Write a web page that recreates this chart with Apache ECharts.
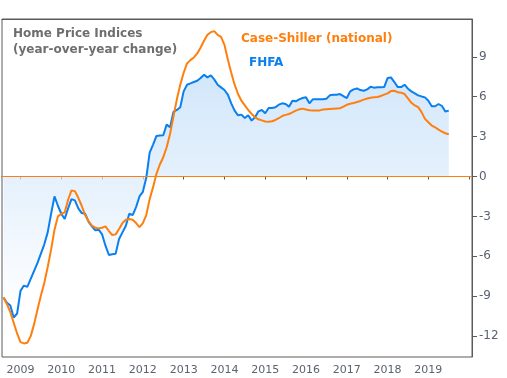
<!DOCTYPE html>
<html>
<head>
<meta charset="utf-8">
<script src="https://cdn.jsdelivr.net/npm/echarts@6/dist/echarts.min.js"></script>
<style>
  html, body { margin: 0; padding: 0; background: #fff; }
  #chart { width: 507px; height: 378px; }
</style>
</head>
<body>
<div id="chart"></div>
<script>
// monthly series, first point Aug 2008, last Jul 2019
const firstMonth = 2008 + 7 / 12;

// FHFA purchase-only index, yoy %
const fhfa = [
  -9.1, -9.5, -9.7, -10.6, -10.3, -8.6, -8.2, -8.3, -7.7, -7.1, -6.5, -5.8,
  -5.1, -4.2, -2.8, -1.5, -2.2, -2.8, -3.2, -2.4, -1.7, -1.8, -2.4, -2.75,
  -2.8, -3.4, -3.75, -4.05, -4.0, -4.35, -5.2, -5.9, -5.85, -5.8, -4.7, -4.2,
  -3.7, -2.8, -2.9, -2.3, -1.5, -1.15, -0.1, 1.8, 2.4, 3.05, 3.08, 3.1,
  3.9, 3.7, 4.85, 5.0, 5.2, 6.4, 6.9, 7.0, 7.1, 7.2, 7.4, 7.65,
  7.45, 7.6, 7.3, 6.9, 6.7, 6.5, 6.15, 5.5, 4.95, 4.6, 4.65, 4.4,
  4.6, 4.2, 4.45, 4.9, 5.0, 4.75, 5.15, 5.15, 5.2, 5.4, 5.5, 5.45,
  5.25, 5.7, 5.65, 5.8, 5.9, 5.95, 5.5, 5.8, 5.8, 5.8, 5.8, 5.85,
  6.1, 6.15, 6.15, 6.2, 6.05, 5.9, 6.4, 6.55, 6.62, 6.5, 6.45, 6.55,
  6.75, 6.68, 6.7, 6.7, 6.72, 7.4, 7.45, 7.1, 6.72, 6.72, 6.9, 6.6,
  6.4, 6.25, 6.1, 6.02, 5.95, 5.7, 5.28, 5.28, 5.45, 5.3, 4.88, 4.95
];

// S&P Case-Shiller national, yoy %
const caseShiller = [
  -9.1, -9.6, -10.2, -11.0, -11.8, -12.45, -12.55, -12.5, -12.0, -11.1, -10.0, -8.95,
  -8.0, -6.8, -5.5, -4.0, -3.0, -2.8, -2.7, -1.75, -1.05, -1.1, -1.6, -2.2,
  -2.9, -3.35, -3.7, -3.85, -3.9, -3.85, -3.75, -4.1, -4.4, -4.35, -3.95, -3.5,
  -3.25, -3.2, -3.25, -3.5, -3.8, -3.5, -2.9, -1.7, -0.8, 0.2, 0.9, 1.45,
  2.2, 3.2, 4.5, 5.8, 6.9, 7.8, 8.5, 8.75, 8.95, 9.25, 9.7, 10.2,
  10.65, 10.85, 10.93, 10.65, 10.5, 9.9, 8.8, 7.8, 6.9, 6.2, 5.7, 5.35,
  5.0, 4.7, 4.45, 4.3, 4.22, 4.14, 4.12, 4.15, 4.25, 4.38, 4.55, 4.63,
  4.7, 4.82, 4.95, 5.05, 5.1, 5.03, 4.98, 4.97, 4.97, 4.97, 5.04, 5.06,
  5.08, 5.1, 5.12, 5.13, 5.25, 5.39, 5.47, 5.53, 5.6, 5.68, 5.78, 5.86,
  5.92, 5.95, 5.98, 6.05, 6.15, 6.25, 6.42, 6.45, 6.33, 6.3, 6.2, 5.87,
  5.54, 5.35, 5.21, 4.84, 4.33, 4.08, 3.83, 3.7, 3.52, 3.38, 3.25, 3.18
];

const yearTicks = [2009, 2010, 2011, 2012, 2013, 2014, 2015, 2016, 2017, 2018, 2019, 2020];
const yearLabels = [2009, 2010, 2011, 2012, 2013, 2014, 2015, 2016, 2017, 2018, 2019];
const yTicks = [-12, -9, -6, -3, 0, 3, 6, 9];

const months = fhfa.map((_, i) => firstMonth + i / 12);
const pairs = (vals) => vals.map((v, i) => [months[i], v]);

const font = 'DejaVu Sans';
const frame = '#5a5a5a';
const chart = echarts.init(document.getElementById('chart'));

chart.setOption({
  animation: false,
  backgroundColor: '#ffffff',
  title: [
    {
      text: 'Home Price Indices\n(year-over-year change)',
      left: 8, top: 21,
      textStyle: { fontFamily: font, fontSize: 12, fontWeight: 'bold', color: '#6e6e6e', lineHeight: 16 }
    },
    {
      text: 'Case-Shiller (national)',
      left: 236, top: 28,
      textStyle: { fontFamily: font, fontSize: 12, fontWeight: 'bold', color: '#ff7f0e' }
    },
    {
      text: 'FHFA',
      left: 244, top: 52,
      textStyle: { fontFamily: font, fontSize: 12, fontWeight: 'bold', color: '#0a7fef' }
    }
  ],
  grid: {
    left: 2, right: 35, top: 19, bottom: 21,
    show: true, borderColor: frame, borderWidth: 1
  },
  xAxis: [
    {
      type: 'value',
      min: 2008.546, max: 2020.07,
      splitLine: { show: false },
      axisLine: { lineStyle: { color: frame } },
      axisTick: { length: 3, lineStyle: { color: frame }, customValues: yearTicks },
      axisLabel: {
        customValues: yearLabels, margin: 8,
        fontFamily: font, fontSize: 11, color: '#5b6270',
        formatter: (v) => String(v)
      }
    },
    {
      // top edge of the frame
      type: 'value', position: 'top',
      min: 2008.546, max: 2020.07,
      splitLine: { show: false },
      axisLine: { show: true, lineStyle: { color: frame } },
      axisTick: { show: false },
      axisLabel: { show: false }
    }
  ],
  yAxis: {
    type: 'value',
    position: 'right',
    min: -13.57, max: 11.84,
    splitLine: { show: false },
    axisLine: { show: true, lineStyle: { color: frame } },
    axisTick: { show: true, length: 5, lineStyle: { color: frame }, customValues: yTicks },
    axisLabel: {
      customValues: yTicks, margin: 7,
      fontFamily: font, fontSize: 12, color: '#5b6270'
    }
  },
  series: [
    {
      name: 'FHFA',
      type: 'line',
      data: pairs(fhfa),
      showSymbol: false,
      lineStyle: { color: '#0a7fef', width: 2 },
      areaStyle: {
        origin: 0,
        color: new echarts.graphic.LinearGradient(0, 60, 0, 310, [
          { offset: 0, color: '#bcdbf9' },
          { offset: 0.46, color: '#d9eafb' },
          { offset: 1, color: '#ffffff' }
        ], true)
      },
      z: 2
    },
    {
      name: 'Case-Shiller',
      type: 'line',
      data: pairs(caseShiller),
      showSymbol: false,
      lineStyle: { color: '#ff7f0e', width: 2 },
      markLine: {
        silent: true,
        symbol: 'none',
        label: { show: false },
        lineStyle: { color: '#ff7f0e', width: 1.2, type: 'solid' },
        data: [{ yAxis: 0 }]
      },
      z: 3
    }
  ]
});
</script>
</body>
</html>
